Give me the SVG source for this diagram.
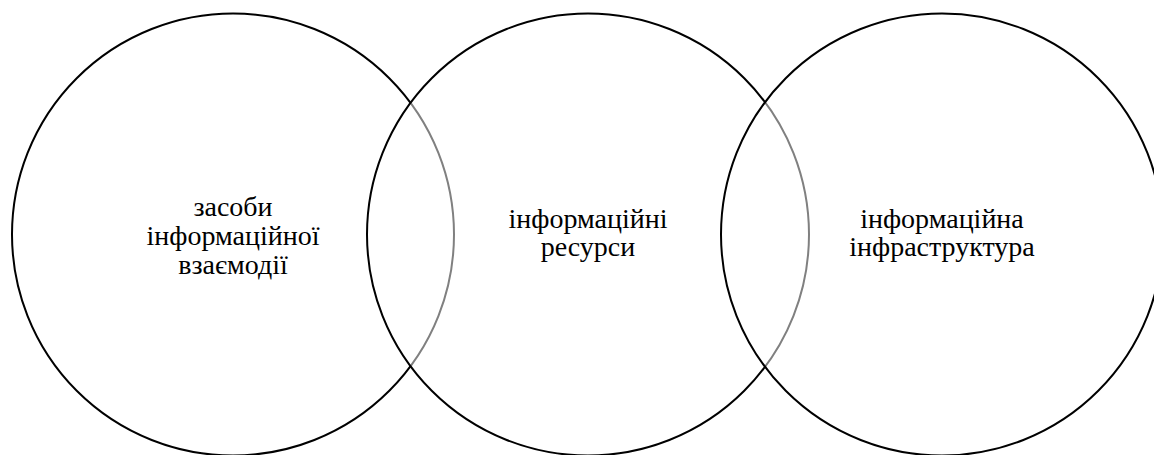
<svg xmlns="http://www.w3.org/2000/svg" width="1154" height="455" viewBox="0 0 1154 455">
<style>
.c{fill:#ffffff;fill-opacity:0.5;stroke:#000;stroke-width:2}
.t{font-family:"Liberation Serif","Times New Roman",serif;font-size:28px;fill:#000;text-anchor:middle}
</style>
<rect width="1154" height="455" fill="#fff"/>
<g id="node-1">
<circle class="c" cx="233" cy="234.5" r="221"/>
</g>
<g id="node-2">
<circle class="c" cx="588" cy="234.5" r="221"/>
</g>
<g id="node-3">
<circle class="c" cx="942" cy="234.5" r="221"/>
</g>
<g id="labels">
<text class="t" x="233" y="216">засоби</text>
<text class="t" x="233" y="245">інформаційної</text>
<text class="t" x="233" y="274">взаємодії</text>
<text class="t" x="588" y="228">інформаційні</text>
<text class="t" x="588" y="256">ресурси</text>
<text class="t" x="942" y="228">інформаційна</text>
<text class="t" x="942" y="256">інфраструктура</text>
</g>
<g id="connectors"></g>
</svg>
